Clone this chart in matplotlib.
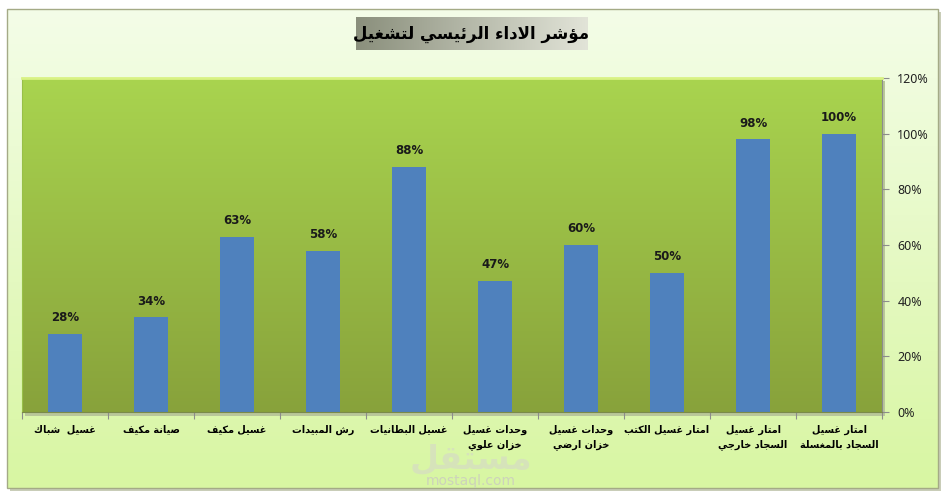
import matplotlib
matplotlib.use('Agg')
import matplotlib.pyplot as plt
from matplotlib.patches import Rectangle
import numpy as np

# data
categories = [
    'غسيل  شباك',
    'صيانة مكيف',
    'غسيل مكيف',
    'رش المبيدات',
    'غسيل البطانيات',
    'وحدات غسيل\nخزان علوي',
    'وحدات غسيل\nخزان ارضي',
    'امتار غسيل الكتب',
    'امتار غسيل\nالسجاد خارجي',
    'امتار غسيل\nالسجاد بالمغسلة',
]
values = [0.28, 0.34, 0.63, 0.58, 0.88, 0.47, 0.60, 0.50, 0.98, 1.00]
yticks = [0, 0.2, 0.4, 0.6, 0.8, 1.0, 1.2]
title = 'مؤشر الاداء الرئيسي لتشغيل'

# matplotlib has no arabic shaping, so map letters to presentation forms
# letter -> (isolated code point, number of forms)
FORMS = {
    'ء': (0xFE80, 1), 'آ': (0xFE81, 2), 'أ': (0xFE83, 2), 'ؤ': (0xFE85, 2),
    'إ': (0xFE87, 2), 'ئ': (0xFE89, 4), 'ا': (0xFE8D, 2), 'ب': (0xFE8F, 4),
    'ة': (0xFE93, 2), 'ت': (0xFE95, 4), 'ث': (0xFE99, 4), 'ج': (0xFE9D, 4),
    'ح': (0xFEA1, 4), 'خ': (0xFEA5, 4), 'د': (0xFEA9, 2), 'ذ': (0xFEAB, 2),
    'ر': (0xFEAD, 2), 'ز': (0xFEAF, 2), 'س': (0xFEB1, 4), 'ش': (0xFEB5, 4),
    'ص': (0xFEB9, 4), 'ض': (0xFEBD, 4), 'ط': (0xFEC1, 4), 'ظ': (0xFEC5, 4),
    'ع': (0xFEC9, 4), 'غ': (0xFECD, 4), 'ف': (0xFED1, 4), 'ق': (0xFED5, 4),
    'ك': (0xFED9, 4), 'ل': (0xFEDD, 4), 'م': (0xFEE1, 4), 'ن': (0xFEE5, 4),
    'ه': (0xFEE9, 4), 'و': (0xFEED, 2), 'ى': (0xFEEF, 2), 'ي': (0xFEF1, 4),
}
LAM_ALEF = {'آ': 0xFEF5, 'أ': 0xFEF7, 'إ': 0xFEF9, 'ا': 0xFEFB}


def shape_line(s):
    out = []
    i = 0
    prev_dual = False
    while i < len(s):
        c = s[i]
        if c not in FORMS:
            out.append(c)
            prev_dual = False
            i += 1
            continue
        if c == 'ل' and i + 1 < len(s) and s[i + 1] in LAM_ALEF:
            code = LAM_ALEF[s[i + 1]] + (1 if prev_dual else 0)
            out.append(chr(code))
            prev_dual = False
            i += 2
            continue
        base, n = FORMS[c]
        nxt = s[i + 1] if i + 1 < len(s) else ''
        next_join = n == 4 and nxt in FORMS and nxt != 'ء'
        if n == 1:
            form = 0
        elif prev_dual and next_join:
            form = 3
        elif prev_dual:
            form = 1
        elif next_join:
            form = 2
        else:
            form = 0
        out.append(chr(base + form))
        prev_dual = n == 4
        i += 1
    return ''.join(reversed(out))


def ar(s):
    return '\n'.join(shape_line(line) for line in s.split('\n'))


def vgrad(c_top, c_bot, n=256):
    t = np.linspace(0, 1, n)[:, None, None]
    a = np.array(matplotlib.colors.to_rgb(c_top))[None, None, :]
    b = np.array(matplotlib.colors.to_rgb(c_bot))[None, None, :]
    return a * (1 - t) + b * t


W, H = 946, 498
fig = plt.figure(figsize=(W / 100, H / 100), dpi=100)
fig.patch.set_facecolor('white')

# background layer in pixel coordinates
bg = fig.add_axes([0, 0, 1, 1])
bg.set_xlim(0, W)
bg.set_ylim(H, 0)
bg.axis('off')
bg.add_patch(Rectangle((10, 12), 931, 479, facecolor='#c9cdb8', edgecolor='none', zorder=0))
bg.imshow(vgrad('#f4fde8', '#d8f6a2'), extent=(7, 938, 488, 9), aspect='auto', zorder=1)
bg.add_patch(Rectangle((7, 9), 931, 479, facecolor='none', edgecolor='#a4aa86', lw=1, zorder=2))

# title box with horizontal gradient
tg = np.transpose(vgrad('#8a8f7c', '#e2e4d8'), (1, 0, 2))
bg.imshow(tg, extent=(356, 587, 50, 17), aspect='auto', zorder=3)
bg.text(471, 34, ar(title), ha='center', va='center', fontsize=12,
        fontweight='bold', family='DejaVu Sans', color='black', zorder=4)

# watermark
bg.text(471, 459, ar('مستقل'), ha='center', va='center', fontsize=24,
        fontweight='bold', family='DejaVu Sans', color='#d6dcc4', alpha=0.7, zorder=2)
bg.text(471, 481, 'mostaql.com', ha='center', va='center', fontsize=10,
        family='DejaVu Sans', color='#cdd3bb', zorder=2)

# plot area shadow
bg.add_patch(Rectangle((25, 81), 860, 335, facecolor='#b9c79a', edgecolor='none', zorder=2))

ax = fig.add_axes([22 / W, 1 - 412 / H, 860 / W, 334 / H])
x = np.arange(len(values))
ax.set_xlim(-0.5, len(values) - 0.5)
ax.set_ylim(0, 1.2)
ax.imshow(vgrad('#a9d44f', '#88a23b'), extent=(-0.5, len(values) - 0.5, 0, 1.2),
          aspect='auto', zorder=0)
ax.bar(x, values, width=0.4, color='#4f81bd', zorder=2)

for xi, v in zip(x, values):
    ax.annotate(f'{int(round(v * 100))}%', (xi, v), xytext=(0, 7), textcoords='offset points',
                ha='center', va='bottom', fontsize=8.5, fontweight='bold',
                family='DejaVu Sans', color='#1a1a1a', zorder=3)

# y axis on the right
ax.yaxis.tick_right()
ax.set_yticks(yticks)
ax.set_yticklabels([f'{int(round(t * 100))}%' for t in yticks], family='Noto Sans',
                   fontsize=9, color='#222222')
ax.tick_params(axis='y', direction='out', length=5, color='#8c8c8c', pad=6)

# category ticks at boundaries, labels at centers
ax.set_xticks(np.arange(len(values) + 1) - 0.5)
ax.set_xticklabels([])
ax.tick_params(axis='x', which='major', direction='out', length=5, color='#8c8c8c')
ax.set_xticks(x, minor=True)
ax.set_xticklabels([ar(c) for c in categories], minor=True, family='DejaVu Sans',
                   fontsize=7, fontweight='bold', color='black', linespacing=1.6)
ax.tick_params(axis='x', which='minor', length=0, pad=9)

ax.spines['top'].set_color('#d9f284')
ax.spines['top'].set_linewidth(2)
ax.spines['left'].set_color('#98c048')
ax.spines['bottom'].set_color('#7a8a4a')
ax.spines['right'].set_color('#8c8c8c')

fig.savefig('out.png', dpi=100, facecolor=fig.get_facecolor())
